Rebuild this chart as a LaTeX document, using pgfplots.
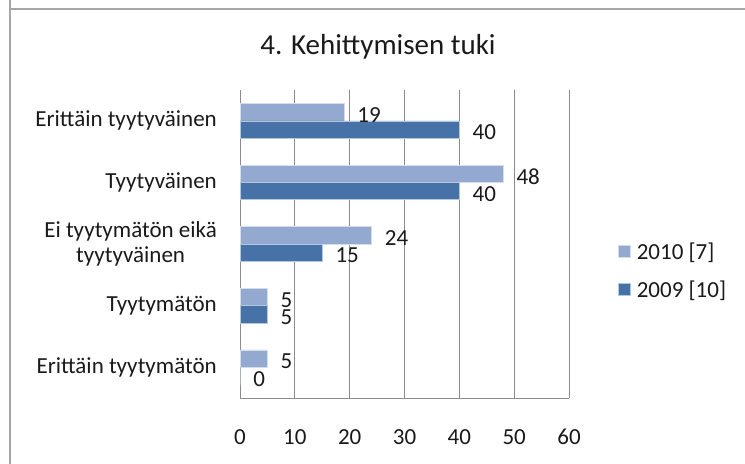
\documentclass[border=0pt]{standalone}
\usepackage{pgfplots}
\pgfplotsset{compat=1.18}
\usepackage{fontspec}
\setmainfont{Carlito}

\definecolor{bar2010}{HTML}{94A9D0}
\definecolor{bar2009}{HTML}{4672A8}
\definecolor{gridgray}{HTML}{8C8C8C}
\definecolor{txt}{HTML}{1A1A1A}
\newcommand{\lbl}{\fontsize{23bp}{25bp}\selectfont}

\begin{document}
\begin{tikzpicture}
\path[use as bounding box] (0,0) rectangle (745bp,464bp);
\draw[gray!70, line width=1.5bp] (10bp,0) -- (10bp,464bp);
\draw[gray!70, line width=1.5bp] (10bp,455bp) -- (745bp,455bp);
\node[anchor=base, text=txt, inner sep=0] at (378bp,409bp)
  {\fontsize{29bp}{32bp}\selectfont 4. Kehittymisen tuki};

\begin{axis}[
    at={(240bp,66bp)}, anchor=south west,
    scale only axis,
    width=329bp, height=308bp,
    xmin=0, xmax=60,
    ymin=-0.5, ymax=4.5,
    xtick={0,10,20,30,40,50,60},
    ytick={0,1,2,3,4},
    yticklabels={Erittäin tyytymätön, Tyytymätön, {Ei tyytymätön eikä\\tyytyväinen}, Tyytyväinen, Erittäin tyytyväinen},
    /pgf/number format/assume math mode=true,
    major tick length=0pt,
    axis x line*=bottom,
    axis y line*=left,
    axis line style={gridgray, line width=1pt, -},
    xmajorgrids,
    grid style={gridgray, line width=1pt},
    xticklabel style={font=\lbl, text=txt, inner sep=0pt, yshift=-31bp},
    yticklabel style={font=\lbl, text=txt, inner sep=0pt, xshift=-23bp, align=center},
    xbar,
    bar width=17.3bp,
    nodes near coords,
    every node near coord/.append style={font=\lbl, text=txt, anchor=west, inner sep=0pt, xshift=13bp, yshift=-3bp},
    legend image code/.code={\fill[#1] (0bp,-6bp) rectangle (12bp,6bp);},
    legend style={draw=none, fill=none, at={(axis description cs:1.149,0.515)}, anchor=north west,
      font=\lbl, text=txt, inner sep=0pt, row sep=14bp,
      nodes={inner sep=3bp}},
    legend cell align=left,
    legend image post style={xshift=-3bp},
]
\addplot[fill=bar2010, draw=white!60!bar2010, line width=0.6bp, bar shift=8.65bp] coordinates {
  (5,0) (5,1) (24,2) (48,3) (19,4)
};
\addlegendentry{\hspace{3bp}2010 [7]}
\addplot[fill=bar2009, draw=white!60!bar2009, line width=0.6bp, bar shift=-8.65bp] coordinates {
  (0,0) (5,1) (15,2) (40,3) (40,4)
};
\addlegendentry{\hspace{3bp}2009 [10]}
\end{axis}
\end{tikzpicture}
\end{document}
